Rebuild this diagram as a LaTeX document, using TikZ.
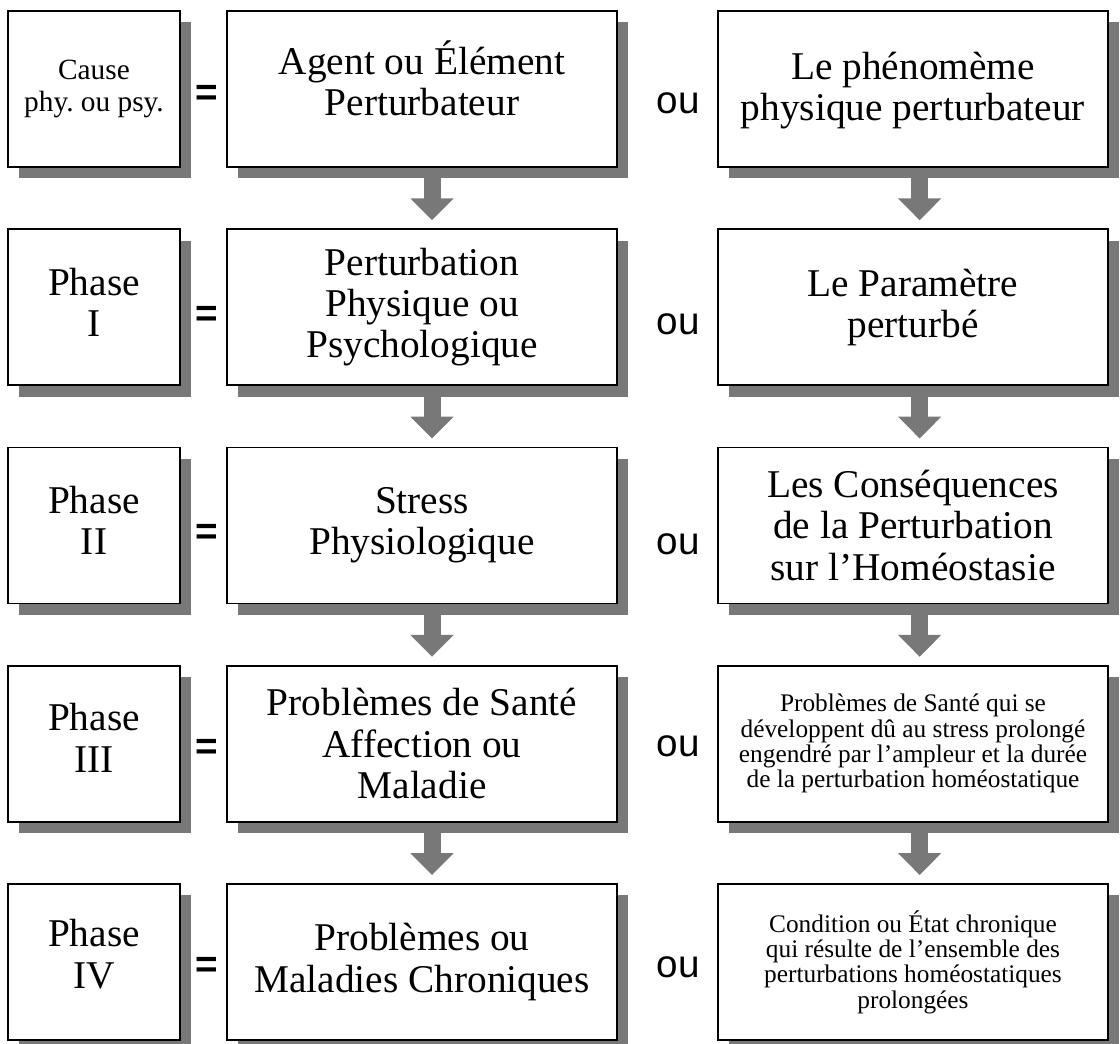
\documentclass[tikz,border=0pt]{standalone}
\usepackage{fontspec}
\setmainfont{Liberation Serif}
\newfontfamily\ousans{Liberation Sans}
\usetikzlibrary{shadows,arrows.meta}
\definecolor{ombre}{RGB}{120,120,120}
\frenchspacing
\newcommand\grand{\fontsize{29.5}{31}\selectfont}
\newcommand\petit{\fontsize{22}{24.5}\selectfont}
\newcommand\menu{\fontsize{19}{19}\selectfont}

\begin{document}
\begin{tikzpicture}[x=0.75pt,y=-0.75pt,
  boite/.style={draw,line width=1.4pt,fill=white,align=center,inner sep=0pt,minimum height=117pt,
    drop shadow={shadow xshift=8pt,shadow yshift=-8.5pt,fill=ombre,opacity=1}},
  gauche/.style={boite,minimum width=129pt},
  large/.style={boite,minimum width=292.5pt,font=\grand},
  signe/.style={inner sep=0pt,font=\ousans\fontsize{29}{29}\selectfont},
  fleche/.style={draw=ombre,line width=12.75pt,-{Triangle[length=16.5pt,width=31.5pt]}}]
  \useasboundingbox (0,0) rectangle (1120,1044);
  \path (94,89) node[gauche,font=\petit] (c1) {Cause\\phy. ou psy.}
  (94,307.25) node[gauche,font=\grand,text depth=7.5pt] (c2) {Phase\\I}
  (94,525.5) node[gauche,font=\grand,text depth=7.5pt] (c3) {Phase\\II}
  (94,743.75) node[gauche,font=\grand,text depth=9pt] (c4) {Phase\\III}
  (94,962) node[gauche,font=\grand,text depth=12pt] (c5) {Phase\\IV};
  \path (422,89) node[large,text depth=16pt] (a1) {Agent ou Élément\\Perturbateur}
  (422,307.25) node[large] (a2) {Perturbation\\Physique ou\\Psychologique}
  (422,525.5) node[large] (a3) {Stress\\Physiologique}
  (422,743.75) node[large] (a4) {Problèmes de Santé\\Affection ou\\Maladie}
  (422,962) node[large] (a5) {Problèmes ou\\Maladies Chroniques};
  \path (913,89) node[large,text depth=4pt] (b1) {Le phénomème\\physique perturbateur}
  (913,307.25) node[large] (b2) {Le Paramètre\\perturbé}
  (913,525.5) node[large] (b3) {Les Conséquences\\de la Perturbation\\sur l'Homéostasie}
  (913,743.75) node[large,font=\menu] (b4) {Problèmes de Santé qui se\\développent dû au stress prolongé\\engendré par l'ampleur et la durée\\de la perturbation homéostatique}
  (913,962) node[large,font=\menu] (b5) {Condition ou État chronique\\qui résulte de l'ensemble des\\perturbations homéostatiques\\prolongées};
  \path (207,95) node[signe,font=\ousans\bfseries\fontsize{29}{29}\selectfont] (e1) {=}
  (207,316) node[signe,font=\ousans\bfseries\fontsize{29}{29}\selectfont] (e2) {=}
  (207,534) node[signe,font=\ousans\bfseries\fontsize{29}{29}\selectfont] (e3) {=}
  (207,749) node[signe,font=\ousans\bfseries\fontsize{29}{29}\selectfont] (e4) {=}
  (207,967) node[signe,font=\ousans\bfseries\fontsize{29}{29}\selectfont] (e5) {=};
  \path (678,103) node[signe] (o1) {ou} (678,324) node[signe] (o2) {ou} (678,544) node[signe] (o3) {ou}
  (678,746) node[signe] (o4) {ou} (678,967) node[signe] (o5) {ou};
  \draw[fleche] ([xshift=7.5pt,yshift=-1pt]a1.south) -- ([xshift=7.5pt,yshift=6pt]a2.north);
  \draw[fleche] ([xshift=7.5pt,yshift=-1pt]a2.south) -- ([xshift=7.5pt,yshift=6pt]a3.north);
  \draw[fleche] ([xshift=7.5pt,yshift=-1pt]a3.south) -- ([xshift=7.5pt,yshift=6pt]a4.north);
  \draw[fleche] ([xshift=7.5pt,yshift=-1pt]a4.south) -- ([xshift=7.5pt,yshift=6pt]a5.north);
  \draw[fleche] ([xshift=5pt,yshift=-1pt]b1.south) -- ([xshift=5pt,yshift=6pt]b2.north);
  \draw[fleche] ([xshift=5pt,yshift=-1pt]b2.south) -- ([xshift=5pt,yshift=6pt]b3.north);
  \draw[fleche] ([xshift=5pt,yshift=-1pt]b3.south) -- ([xshift=5pt,yshift=6pt]b4.north);
  \draw[fleche] ([xshift=5pt,yshift=-1pt]b4.south) -- ([xshift=5pt,yshift=6pt]b5.north);
\end{tikzpicture}
\end{document}
